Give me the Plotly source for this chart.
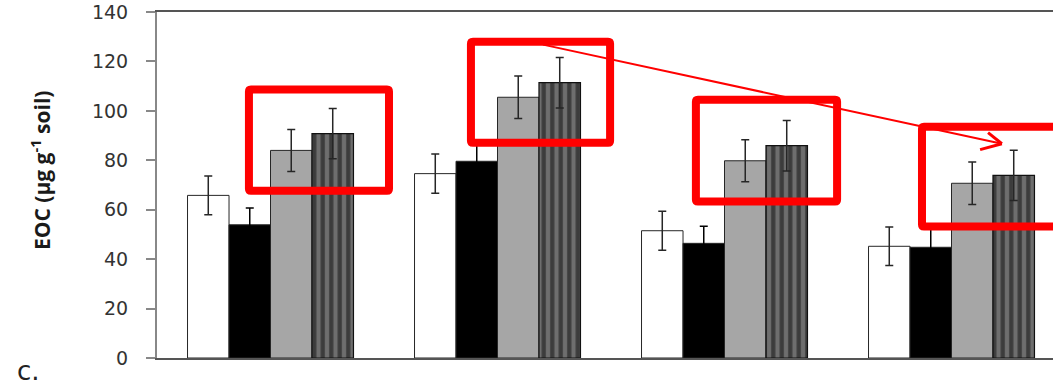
import plotly.graph_objects as go

# ---- data ----
groups = ["1", "2", "3", "4"]
white_vals = [65.8, 74.6, 51.5, 45.2]
white_err = [7.8, 7.9, 7.9, 7.8]
black_vals = [53.9, 79.6, 46.4, 44.8]
black_err = [6.8, 8.0, 6.9, 7.5]
gray_vals = [84.0, 105.5, 79.8, 70.7]
gray_err = [8.5, 8.6, 8.5, 8.6]
striped_vals = [90.8, 111.4, 85.9, 73.9]
striped_err = [10.2, 10.2, 10.2, 10.2]

y_ticks = [0, 20, 40, 60, 80, 100, 120, 140]

# highlight boxes: (category index, left offset, right offset, bottom value, top value)
boxes = [
    (0, -0.095, 0.522, 67.7, 108.6),
    (1, -0.117, 0.496, 87.1, 128.0),
    (2, -0.126, 0.496, 63.3, 104.5),
    (3, -0.130, 0.700, 53.2, 93.6),
]
# arrow (category-axis x, value y)
arrow_start = (1.200, 126.8)
arrow_tip = (3.222, 86.7)
arrow_arm1 = (3.161, 91.2)
arrow_arm2 = (3.126, 84.3)

W, H = 1053, 386
L, R, T, B = 157, 0, 12, 28
XR = [-0.5, -0.5 + (W - L - R) / 227.0]
YR = [0, 140]
px_x = (W - L - R) / (XR[1] - XR[0])
px_y = (H - T - B) / (YR[1] - YR[0])

outline = dict(color="#262626", width=1)


def err(arr, color="#262626"):
    return dict(type="data", array=arr, color=color, thickness=1.5, width=4)


fig = go.Figure()
fig.add_bar(x=groups, y=white_vals, marker=dict(color="white", line=outline),
            error_y=err(white_err), name="A")
fig.add_bar(x=groups, y=black_vals, marker=dict(color="black", line=outline),
            error_y=err(black_err, "#000000"), name="B")
fig.add_bar(x=groups, y=gray_vals, marker=dict(color="#a6a6a6", line=outline),
            error_y=err(gray_err), name="C")
fig.add_bar(x=groups, y=striped_vals,
            marker=dict(color="#666666", line=dict(color="#111111", width=1.2),
                        pattern=dict(shape="|", size=8.5, solidity=0.5,
                                     fgcolor="#0a0a0a", bgcolor="#6e6e6e")),
            error_y=err(striped_err), name="D")


def rounded_box(x0, x1, y0, y1, r=2.0):
    rx = r / px_x
    ry = r / px_y
    return (f"M {x0+rx},{y1} L {x1-rx},{y1} Q {x1},{y1} {x1},{y1-ry} "
            f"L {x1},{y0+ry} Q {x1},{y0} {x1-rx},{y0} "
            f"L {x0+rx},{y0} Q {x0},{y0} {x0},{y0+ry} "
            f"L {x0},{y1-ry} Q {x0},{y1} {x0+rx},{y1} Z")


shapes = []
for gi, dx0, dx1, yb, yt in boxes:
    shapes.append(dict(type="path", xref="x", yref="y",
                       path=rounded_box(gi + dx0, gi + dx1, yb, yt),
                       line=dict(color="#ff0000", width=8), layer="above"))
shapes.append(dict(type="line", xref="x", yref="y",
                   x0=arrow_start[0], y0=arrow_start[1], x1=arrow_tip[0], y1=arrow_tip[1],
                   line=dict(color="#ff0000", width=2), layer="above"))
for arm in (arrow_arm1, arrow_arm2):
    shapes.append(dict(type="line", xref="x", yref="y",
                       x0=arrow_tip[0], y0=arrow_tip[1], x1=arm[0], y1=arm[1],
                       line=dict(color="#ff0000", width=3), layer="above"))

fig.update_layout(
    width=W, height=H,
    margin=dict(l=L, r=R, t=T, b=B, pad=0),
    paper_bgcolor="white", plot_bgcolor="white",
    barmode="group", bargap=0.269, bargroupgap=0,
    showlegend=False,
    font=dict(family="DejaVu Sans", color="#333333"),
    shapes=shapes,
    xaxis=dict(range=XR, showticklabels=False, ticks="", showgrid=False,
               showline=True, mirror=True, linecolor="#555555", linewidth=1.5,
               zeroline=False, fixedrange=True),
    yaxis=dict(range=YR, tickvals=y_ticks, ticks="outside", ticklen=9,
               tickcolor="#888888", tickwidth=1.5, showgrid=False,
               showline=True, linecolor="#888888", linewidth=2,
               zeroline=False, tickfont=dict(size=19, color="#333333"),
               ticklabelstandoff=14),
    annotations=[
        dict(text="<b>EOC (µg g<sup>-1</sup> soil)</b>", textangle=-90,
             xref="paper", yref="paper", x=(40 - L) / (W - L - R), y=(H - B - 171) / (H - T - B),
             xanchor="center", yanchor="middle", showarrow=False,
             font=dict(family="Open Sans", size=21, color="#1a1a1a")),
        dict(text="c.", xref="paper", yref="paper",
             x=(28 - L) / (W - L - R), y=(H - B - 371) / (H - T - B),
             xanchor="center", yanchor="middle", showarrow=False,
             font=dict(family="DejaVu Sans", size=26, color="#222222")),
    ],
)

fig.write_html("out.html")
